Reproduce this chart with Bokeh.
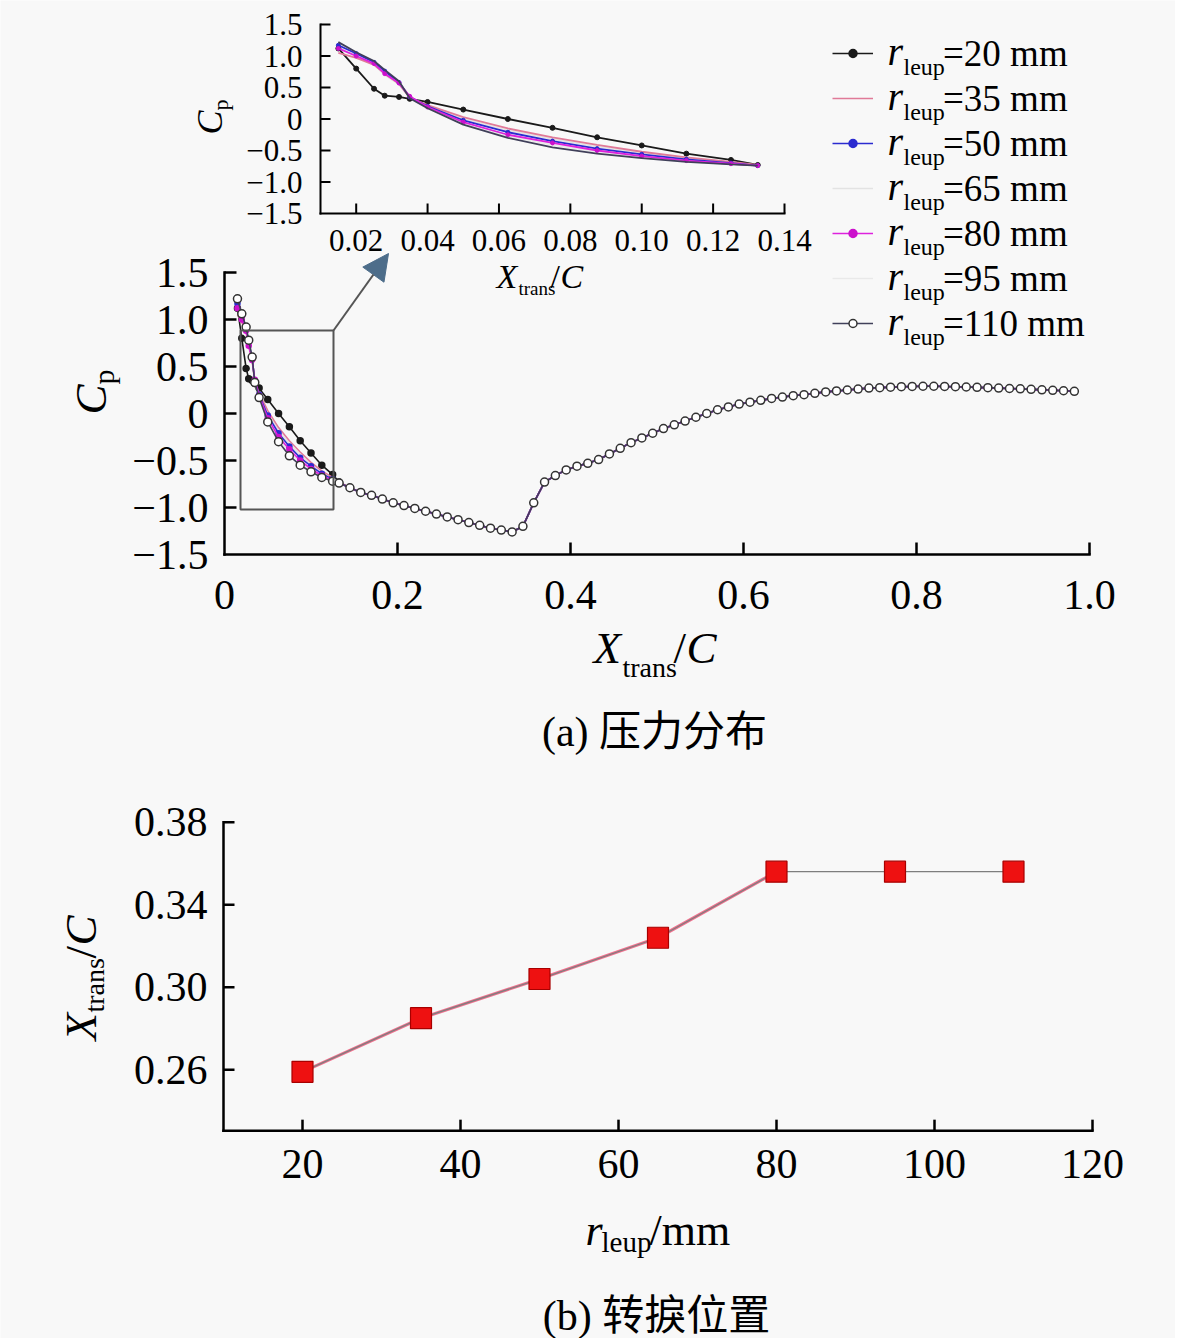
from math import pi
from bokeh.plotting import figure
from bokeh.models import Range1d, Legend, LegendItem, BoxAnnotation, Arrow, NormalHead
from bokeh.embed import file_html
from bokeh.resources import INLINE
from bokeh.core.properties import value

# ------------------------------------------------------------------ data
r_leup = [20, 35, 50, 65, 80, 95, 110]

# leading-edge part (differs per radius), also shown in the inset
lead_x = [0.0150, 0.0200, 0.0250, 0.0280, 0.0320, 0.0350, 0.0400, 0.0500,
          0.0625, 0.0750, 0.0875, 0.1000, 0.1125, 0.1250, 0.1325]
cp_lead_r20 = [1.12, 0.80, 0.48, 0.37, 0.35, 0.32, 0.27, 0.15, 0.00, -0.14, -0.29, -0.42, -0.55, -0.65, -0.73]
cp_lead_r35 = [1.05, 0.97, 0.86, 0.72, 0.56, 0.34, 0.22, 0.03, -0.15, -0.29, -0.41, -0.52, -0.61, -0.68, -0.73]
cp_lead_r50 = [1.17, 1.04, 0.90, 0.76, 0.58, 0.35, 0.20, -0.02, -0.21, -0.35, -0.47, -0.56, -0.64, -0.70, -0.74]
cp_lead_r65 = [1.15, 1.00, 0.86, 0.70, 0.55, 0.34, 0.21, 0.00, -0.18, -0.32, -0.44, -0.54, -0.62, -0.69, -0.74]
cp_lead_r80 = [1.12, 1.00, 0.88, 0.72, 0.57, 0.36, 0.19, -0.05, -0.25, -0.38, -0.50, -0.59, -0.66, -0.71, -0.74]
cp_lead_r95 = [1.18, 1.03, 0.89, 0.73, 0.57, 0.33, 0.18, -0.07, -0.27, -0.41, -0.52, -0.60, -0.67, -0.71, -0.74]
cp_lead_r110 = [1.22, 1.06, 0.92, 0.78, 0.60, 0.33, 0.17, -0.09, -0.30, -0.45, -0.55, -0.62, -0.68, -0.72, -0.74]
cp_leads = [cp_lead_r20, cp_lead_r35, cp_lead_r50, cp_lead_r65, cp_lead_r80, cp_lead_r95, cp_lead_r110]

# common downstream part (all radii coincide)
tail_x = [0.1450, 0.1575, 0.1700, 0.1825, 0.1950, 0.2075, 0.2200, 0.2325, 0.2450, 0.2575,
          0.2700, 0.2825, 0.2950, 0.3075, 0.3200, 0.3325, 0.3450, 0.3575, 0.3700, 0.3825,
          0.3950, 0.4075, 0.4200, 0.4325, 0.4450, 0.4575, 0.4700, 0.4825, 0.4950, 0.5075,
          0.5200, 0.5325, 0.5450, 0.5575, 0.5700, 0.5825, 0.5950, 0.6075, 0.6200, 0.6325,
          0.6450, 0.6575, 0.6700, 0.6825, 0.6950, 0.7075, 0.7200, 0.7325, 0.7450, 0.7575,
          0.7700, 0.7825, 0.7950, 0.8075, 0.8200, 0.8325, 0.8450, 0.8575, 0.8700, 0.8825,
          0.8950, 0.9075, 0.9200, 0.9325, 0.9450, 0.9575, 0.9700, 0.9825]
tail_cp = [-0.79, -0.84, -0.87, -0.91, -0.95, -0.98, -1.01, -1.04, -1.07, -1.10,
           -1.13, -1.16, -1.19, -1.22, -1.24, -1.26, -1.20, -0.95, -0.73, -0.66,
           -0.60, -0.56, -0.53, -0.49, -0.43, -0.37, -0.31, -0.26, -0.21, -0.16,
           -0.12, -0.08, -0.04, 0.00, 0.04, 0.07, 0.10, 0.12, 0.14, 0.16,
           0.175, 0.19, 0.20, 0.215, 0.23, 0.24, 0.25, 0.26, 0.27, 0.275,
           0.28, 0.285, 0.288, 0.29, 0.29, 0.288, 0.285, 0.282, 0.278, 0.275,
           0.27, 0.266, 0.262, 0.257, 0.252, 0.247, 0.242, 0.236]

# main axes (a)
xa_lim = [0.0, 1.0]
ya_lim = [-1.5, 1.5]
xa_ticks = [0.2, 0.4, 0.6, 0.8, 1.0]
xa_tick_labels_at = [0.0, 0.2, 0.4, 0.6, 0.8, 1.0]
xa_labels = ["0", "0.2", "0.4", "0.6", "0.8", "1.0"]
ya_ticks = [-1.0, -0.5, 0.0, 0.5, 1.0, 1.5]
ya_tick_labels_at = [-1.5, -1.0, -0.5, 0.0, 0.5, 1.0, 1.5]
ya_labels = ["\u22121.5", "\u22121.0", "\u22120.5", "0", "0.5", "1.0", "1.5"]

# inset axes
inset_xlim = [0.01, 0.14]
inset_ylim = [-1.5, 1.5]
inset_xticks = [0.02, 0.04, 0.06, 0.08, 0.10, 0.12, 0.14]
inset_xlabels = ["0.02", "0.04", "0.06", "0.08", "0.10", "0.12", "0.14"]
inset_yticks = [-1.0, -0.5, 0.0, 0.5, 1.0, 1.5]
inset_ylabels_at = [-1.5, -1.0, -0.5, 0.0, 0.5, 1.0, 1.5]
inset_ylabels = ["\u22121.5", "\u22121.0", "\u22120.5", "0", "0.5", "1.0", "1.5"]

# (b) transition position
xtrans_c = [0.259, 0.285, 0.304, 0.324, 0.356, 0.356, 0.356]
xb_lim = [10, 120]
yb_lim = [0.2305, 0.38]
xb_ticks = [20, 40, 60, 80, 100, 120]
xb_labels = ["20", "40", "60", "80", "100", "120"]
yb_ticks = [0.26, 0.30, 0.34, 0.38]
yb_labels = ["0.26", "0.30", "0.34", "0.38"]

# ------------------------------------------------------------------ layout helpers
SERIF = "Liberation Serif"
CJK = "Liberation Serif, Noto Sans CJK SC"
BG = "#f8f8f8"
W, H = 1175, 1338
MID = 0.34    # em distance from alphabetic baseline to the em middle


def ax(px):   # page px -> main (a) x
    return (px - 224) / (1089 - 224)


def ay(py):   # page px -> main (a) y
    return 1.5 - 3.0 * (py - 272) / (554 - 272)


def ix(px):   # page px -> inset x
    return inset_xlim[0] + (px - 320) * (inset_xlim[1] - inset_xlim[0]) / (784 - 320)


def iy(py):   # page px -> inset y
    return inset_ylim[1] - (py - 24) * (inset_ylim[1] - inset_ylim[0]) / (213 - 24)


def bx(px):   # page px -> (b) x
    return 20 + (px - 302) * 100 / (1092 - 302)


def by(py):   # page px -> (b) y
    return 0.26 + (1069.3 - py) * 0.12 / (1069.3 - 821.7)


def T(py):    # page px -> page-range y
    return H - py


p = figure(width=W, height=H, x_range=Range1d(ax(0), ax(W)), y_range=Range1d(ay(H), ay(0)),
           x_axis_location=None, y_axis_location=None, min_border=0,
           output_backend="svg", toolbar_location=None,
           background_fill_color=BG, border_fill_color=BG, outline_line_color=None)
p.xgrid.visible = False
p.ygrid.visible = False
p.extra_x_ranges = {"ix": Range1d(ix(0), ix(W)), "bx": Range1d(bx(0), bx(W)), "pgx": Range1d(0, W)}
p.extra_y_ranges = {"iy": Range1d(iy(H), iy(0)), "by": Range1d(by(H), by(0)), "pgy": Range1d(0, H)}


def add_text(xs, ys, texts, size, xr="pgx", yr="pgy", align="left", baseline="middle",
             italic=False, angle=0.0, font=SERIF):
    p.text(x=xs, y=ys, text=texts, x_range_name=xr, y_range_name=yr,
           text_font=value(font), text_font_size=f"{size}px",
           text_font_style="italic" if italic else "normal",
           text_align=align, text_baseline=baseline, angle=angle, text_color="black")


def piece(px, py_base, text, size, italic=False, rotated=False):
    """Text piece given by the page position of its left end on the alphabetic baseline."""
    if rotated:
        add_text([px - MID * size], [T(py_base)], [text], size, italic=italic, angle=pi / 2)
    else:
        add_text([px], [T(py_base - MID * size)], [text], size, italic=italic)


def draw_axes(xr, yr, xlim, ylim, xticks, yticks, tick_len, lw):
    p.segment(x0=[xlim[0], xlim[0]], y0=[ylim[0], ylim[0]], x1=[xlim[1], xlim[0]], y1=[ylim[0], ylim[1]],
              x_range_name=xr, y_range_name=yr, line_color="black", line_width=lw, line_cap="square")
    p.ray(x=xticks, y=[ylim[0]] * len(xticks), length=tick_len, angle=pi / 2, length_units="screen",
          x_range_name=xr, y_range_name=yr, line_color="black", line_width=lw)
    p.ray(x=[xlim[0]] * len(yticks), y=yticks, length=tick_len, angle=0, length_units="screen",
          x_range_name=xr, y_range_name=yr, line_color="black", line_width=lw)


series_style = [
    dict(line="#1a1a1a", marker=True, fill="#1a1a1a", mline="#1a1a1a", size=6, isize=5, inset_marker=True),
    dict(line="#e07a98", marker=False),
    dict(line="#2b2bd0", marker=True, fill="#2b2bd0", mline="#2b2bd0", size=5, isize=4, inset_marker=True),
    dict(line="#e3e3e3", marker=False),
    dict(line="#dd22dd", marker=True, fill="#cc11cc", mline="#cc11cc", size=5, isize=4, inset_marker=True),
    dict(line="#e9e9e9", marker=False),
    dict(line="#40405a", marker=True, fill="white", mline="#333333", size=8, isize=5, inset_marker=False),
]
draw_order = [3, 5, 0, 1, 2, 4, 6]

# ------------------------------------------------------------------ (a) pressure distribution
legend_renderers = [None] * len(r_leup)
for i in draw_order:
    st = series_style[i]
    xs = lead_x + tail_x
    ys = cp_leads[i] + tail_cp
    rends = [p.line(xs, ys, line_color=st["line"], line_width=1.6)]
    p.line(lead_x, cp_leads[i], line_color=st["line"], line_width=1.8,
           x_range_name="ix", y_range_name="iy")
    if st["marker"]:
        rends.append(p.scatter(xs, ys, marker="circle", size=st["size"], fill_color=st["fill"],
                               line_color=st["mline"], line_width=1.5))
        if st["inset_marker"]:
            p.scatter(lead_x, cp_leads[i], marker="circle", size=st["isize"], fill_color=st["fill"],
                      line_color=st["mline"], line_width=1.0, x_range_name="ix", y_range_name="iy")
    legend_renderers[i] = rends

# main axes
draw_axes("default", "default", xa_lim, ya_lim, xa_ticks, ya_ticks, 12, 2.5)
add_text(xa_tick_labels_at, [T(594)] * len(xa_labels), xa_labels, 42, "default", "pgy", align="center")
add_text([208] * len(ya_labels), ya_tick_labels_at, ya_labels, 42, "pgx", "default", align="right")

# inset axes
draw_axes("ix", "iy", inset_xlim, inset_ylim, inset_xticks, inset_yticks, 10, 2)
add_text(inset_xticks, [T(240)] * len(inset_xlabels), inset_xlabels, 31, "ix", "pgy", align="center")
add_text([302] * len(inset_ylabels), inset_ylabels_at, inset_ylabels, 31, "pgx", "iy", align="right")

# zoom box and arrow
p.add_layout(BoxAnnotation(left=ax(240), right=ax(333), bottom=ay(509), top=ay(330),
                           fill_alpha=0, line_color="#555555", line_alpha=1.0, line_width=2))
p.add_layout(Arrow(end=NormalHead(size=26, fill_color="#4d6d8a", line_color="#4d6d8a"),
                   x_start=ax(333), y_start=ay(330), x_end=ax(388), y_end=ay(253),
                   line_color="#555555", line_width=2))

# legend
LEG_TOP, ROW_H, ROW_GAP = 31, 44, 1
items = [LegendItem(label=f"={r} mm", renderers=legend_renderers[k]) for k, r in enumerate(r_leup)]
legend = Legend(items=items, location=(832, H - (LEG_TOP + 7 * ROW_H + 6 * ROW_GAP)),
                orientation="vertical", glyph_width=41, glyph_height=20, label_height=ROW_H,
                spacing=ROW_GAP, padding=0, margin=0, label_standoff=70,
                label_text_font=SERIF, label_text_font_size="37px",
                label_text_color="black", border_line_color=None, background_fill_alpha=0)
p.add_layout(legend)
for k in range(len(r_leup)):
    yc = LEG_TOP + ROW_H / 2 + (ROW_H + ROW_GAP) * k
    piece(887, yc + 12, "r", 40, italic=True)
    piece(903, yc + 22, "leup", 24)

# axis titles (a)
piece(593, 663, "X", 45, italic=True)
piece(622, 677, "trans", 28)
piece(673, 663, "/", 45)
piece(686, 663, "C", 45, italic=True)
piece(106, 414, "C", 45, italic=True, rotated=True)
piece(113, 384, "p", 30, rotated=True)
# inset titles
piece(496, 288, "X", 34, italic=True)
piece(518, 294, "trans", 19)
piece(550, 288, "/", 34)
piece(560, 288, "C", 34, italic=True)
piece(222, 134, "C", 36, italic=True, rotated=True)
piece(227, 110, "p", 22, rotated=True)
# caption (a)
add_text([654], [T(731)], ["(a) 压力分布"], 42, align="center", font=CJK)

# ------------------------------------------------------------------ (b) transition position
draw_axes("bx", "by", xb_lim, yb_lim, xb_ticks, yb_ticks, 11, 2.5)
add_text(xb_ticks, [T(1163)] * len(xb_labels), xb_labels, 42, "bx", "pgy", align="center")
add_text([207] * len(yb_labels), yb_ticks, yb_labels, 42, "pgx", "by", align="right")

p.line(r_leup[:5], xtrans_c[:5], line_color="#f2708e", line_width=3.2,
       x_range_name="bx", y_range_name="by")
p.line(r_leup, xtrans_c, line_color="#7e7e7e", line_width=1.3,
       x_range_name="bx", y_range_name="by")
p.scatter(r_leup, xtrans_c, marker="square", size=21, fill_color="#ee1111",
          line_color="#a80000", line_width=1.2, x_range_name="bx", y_range_name="by")

piece(96, 1040, "X", 45, italic=True, rotated=True)
piece(104, 1012, "trans", 28, rotated=True)
piece(96, 958, "/", 45, rotated=True)
piece(96, 945, "C", 45, italic=True, rotated=True)
piece(585, 1245, "r", 44, italic=True)
piece(601, 1251, "leup", 29)
piece(649, 1245, "/mm", 44)
add_text([656], [T(1315)], ["(b) 转捩位置"], 42, align="center", font=CJK)

open("out.html", "w", encoding="utf-8").write(file_html(p, INLINE))
